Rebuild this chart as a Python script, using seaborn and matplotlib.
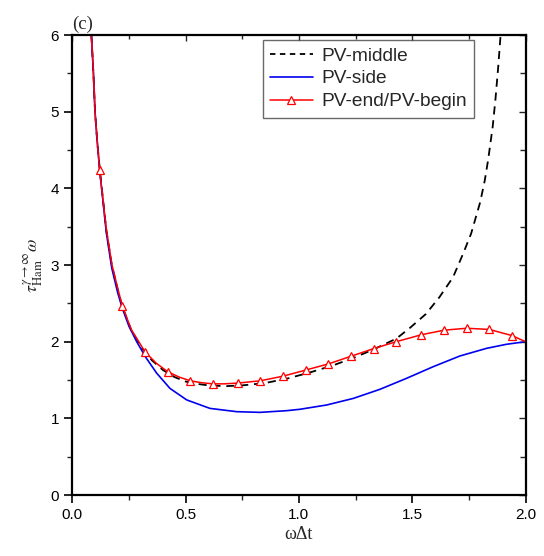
#!/usr/bin/env python3
"""Hamiltonian time constant vs. omega*dt for the three PV placements (panel c)."""

import matplotlib
matplotlib.use("Agg")
import matplotlib.pyplot as plt
from matplotlib.ticker import MultipleLocator, FormatStrFormatter
import pandas as pd
import seaborn as sns

# PV-middle (dashed black)
mid_x = [0.084, 0.093, 0.100, 0.110, 0.122, 0.15, 0.174, 0.20, 0.22, 0.26, 0.30,
         0.35, 0.40, 0.45, 0.50, 0.55, 0.60, 0.68, 0.75, 0.85, 0.95, 1.05, 1.15,
         1.25, 1.33, 1.43, 1.49, 1.56, 1.62, 1.68, 1.725, 1.76, 1.80, 1.82, 1.835,
         1.855, 1.867, 1.88, 1.89]
mid_y = [6.0, 5.5, 5.0, 4.6, 4.22, 3.45, 3.0, 2.68, 2.46, 2.15, 1.94,
         1.76, 1.63, 1.54, 1.48, 1.45, 1.43, 1.42, 1.43, 1.46, 1.52, 1.60, 1.69,
         1.80, 1.90, 2.04, 2.18, 2.36, 2.58, 2.84, 3.15, 3.41, 3.82, 4.10, 4.37,
         4.80, 5.15, 5.6, 6.0]

# PV-side (solid blue)
side_x = [0.084, 0.093, 0.100, 0.110, 0.122, 0.15, 0.174, 0.20, 0.22, 0.25, 0.284,
          0.323, 0.372, 0.431, 0.505, 0.607, 0.725, 0.828, 0.946, 1.004, 1.122,
          1.24, 1.357, 1.475, 1.592, 1.71, 1.828, 1.916, 2.0]
side_y = [6.0, 5.5, 5.0, 4.6, 4.2, 3.42, 2.96, 2.64, 2.44, 2.2, 2.0,
          1.80, 1.59, 1.39, 1.24, 1.13, 1.087, 1.078, 1.10, 1.118, 1.174,
          1.26, 1.378, 1.522, 1.673, 1.813, 1.913, 1.966, 2.0]

# PV-end/PV-begin (red, open triangles)
end_x = [0.084, 0.093, 0.100, 0.110, 0.12, 0.15, 0.175, 0.20, 0.22, 0.26, 0.32,
         0.37, 0.42, 0.47, 0.52, 0.57, 0.62, 0.67, 0.73, 0.83, 0.93, 1.03, 1.13,
         1.23, 1.33, 1.43, 1.54, 1.64, 1.74, 1.84, 1.94, 2.0]
end_y = [6.0, 5.5, 5.0, 4.62, 4.24, 3.47, 3.0, 2.70, 2.47, 2.16, 1.87,
         1.72, 1.61, 1.54, 1.49, 1.465, 1.45, 1.45, 1.46, 1.49, 1.55, 1.63, 1.71,
         1.81, 1.91, 2.00, 2.09, 2.15, 2.175, 2.16, 2.08, 2.0]
end_marker_x = [0.12, 0.22, 0.32, 0.42, 0.52, 0.62, 0.73, 0.83, 0.93, 1.03, 1.13,
                1.23, 1.33, 1.43, 1.54, 1.64, 1.74, 1.84, 1.94]

labels = ["PV-middle", "PV-side", "PV-end/PV-begin"]


def main() -> None:
    sns.set_style("ticks")
    plt.rcParams["font.family"] = ["Liberation Sans", "DejaVu Sans"]
    plt.rcParams["mathtext.fontset"] = "stix"

    fig = plt.figure(figsize=(5.44, 5.56), dpi=100)
    ax = fig.add_axes([0.133, 0.1097, 0.833, 0.8273])

    df_mid = pd.DataFrame({"x": mid_x, "y": mid_y})
    df_side = pd.DataFrame({"x": side_x, "y": side_y})
    df_end = pd.DataFrame({"x": end_x, "y": end_y})

    sns.lineplot(data=df_mid, x="x", y="y", ax=ax, sort=False, estimator=None,
                 color="black", lw=1.3, label=labels[0])
    ax.lines[-1].set_dashes((4.5, 3.2))
    sns.lineplot(data=df_side, x="x", y="y", ax=ax, sort=False, estimator=None,
                 color="#0000ee", lw=1.2, label=labels[1])
    marks = [end_x.index(v) for v in end_marker_x]
    sns.lineplot(data=df_end, x="x", y="y", ax=ax, sort=False, estimator=None,
                 color="red", lw=1.1, marker="^", markevery=marks, markersize=6,
                 markerfacecolor="white", markeredgecolor="red", markeredgewidth=0.9,
                 label=labels[2])

    ax.set_xlim(0, 2.0)
    ax.set_ylim(0, 6)
    ax.xaxis.set_major_locator(MultipleLocator(0.5))
    ax.xaxis.set_minor_locator(MultipleLocator(0.25))
    ax.yaxis.set_major_locator(MultipleLocator(1))
    ax.yaxis.set_minor_locator(MultipleLocator(0.5))
    ax.xaxis.set_major_formatter(FormatStrFormatter("%.1f"))

    ax.tick_params(which="major", direction="out", length=6, width=1.2,
                   labelsize=11, colors="black")
    ax.tick_params(which="minor", direction="out", length=3.5, width=1.0)

    # inward ticks on top and right
    top = ax.secondary_xaxis("top")
    top.xaxis.set_major_locator(MultipleLocator(0.5))
    top.xaxis.set_minor_locator(MultipleLocator(0.25))
    top.tick_params(which="major", direction="in", length=4, width=1.0, labeltop=False)
    top.tick_params(which="minor", direction="in", length=3, width=1.0)
    right = ax.secondary_yaxis("right")
    right.yaxis.set_major_locator(MultipleLocator(1))
    right.yaxis.set_minor_locator(MultipleLocator(0.5))
    right.tick_params(which="major", direction="in", length=5, width=1.0, labelright=False)
    right.tick_params(which="minor", direction="in", length=4, width=1.0)
    for sec in (top, right):
        for sp in sec.spines.values():
            sp.set_visible(False)

    for sp in ax.spines.values():
        sp.set_visible(True)
        sp.set_linewidth(1.6)
        sp.set_color("black")

    ax.set_xlabel("ωΔt", family="Liberation Serif", fontsize=13, labelpad=3)
    ax.set_ylabel(r"$\tau_{\mathrm{Ham}}^{\gamma\rightarrow\infty}\omega$",
                  fontsize=13, labelpad=4)
    fig.text(0.133, 0.94, "(c)", family="Liberation Serif", fontsize=13.5,
             ha="left", va="bottom")

    leg = ax.legend(loc="upper left", bbox_to_anchor=(0.42, 0.99), fontsize=13.8,
                    frameon=True, fancybox=False, handlelength=2.2,
                    borderpad=0.4, labelspacing=0.28, handletextpad=0.45,
                    borderaxespad=0)
    leg.get_frame().set_edgecolor("#444444")
    leg.get_frame().set_linewidth(1.0)
    leg.get_lines()[0].set_dashes((3.0, 2.5))

    fig.savefig("out.png", dpi=100)
    plt.close(fig)


if __name__ == "__main__":
    main()
